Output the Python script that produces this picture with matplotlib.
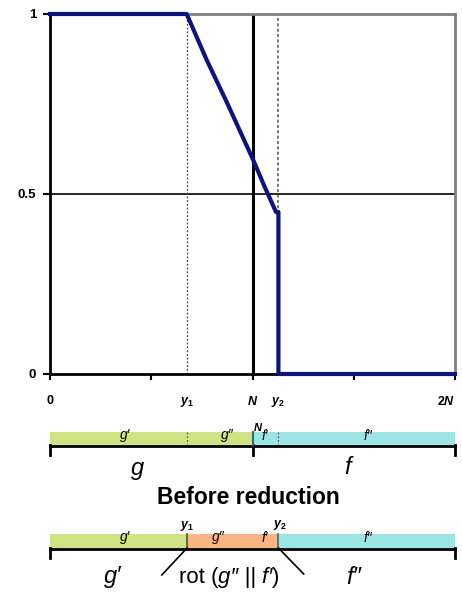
import matplotlib
matplotlib.use("Agg")
import matplotlib.pyplot as plt
from matplotlib.ticker import FixedLocator, NullFormatter, FixedFormatter

plt.rcParams['font.family'] = ['Liberation Sans', 'DejaVu Sans']
plt.rcParams['mathtext.fontset'] = 'custom'
plt.rcParams['mathtext.it'] = 'Liberation Sans:italic:bold'
plt.rcParams['mathtext.rm'] = 'Liberation Sans:bold'

# ---- data ----
N = 100.0
Y1 = 67.7
Y2 = 112.8
curve_x = [0, 67.5, 77.4, 87.3, 100.4, 106.0, 111.6, 112.8, 112.8, 200]
curve_y = [1.0, 1.0, 0.872, 0.755, 0.594, 0.52, 0.45, 0.45, 0.0, 0.0]
xtick_major = [0, 50, 100, 150, 200]
xlabel_pos = [0, Y1, N, Y2, 2 * N]
xlabel_text = ['0', '$y_1$', '$N$', '$y_2$', '$2N$']
ytick_vals = [0, 0.5, 1]
ytick_text = ['0', '0.5', '1']

before_bounds = [0, N, 2 * N]
before_colors = ['#cfe385', '#9de4e4']
before_labels = ["g\u2032", "g\u2033", "f\u2032", "f\u2033"]
before_label_x = [37, 87.5, 106, 157]

after_bounds = [0, Y1, Y2, 2 * N]
after_colors = ['#cfe385', '#fbb584', '#9de4e4']
after_labels = ["g\u2032", "g\u2033", "f\u2032", "f\u2033"]
after_label_x = [37, 83, 106, 157]

W, H = 462, 592
fig = plt.figure(figsize=(W / 100, H / 100), dpi=100)

# ---- main chart ----
L, R, T, B = 50, 455, 14, 374
ax = fig.add_axes([L / W, 1 - B / H, (R - L) / W, (B - T) / H])
ax.set_xlim(0, 200)
ax.set_ylim(0, 1)
ax.axhline(0.5, color='black', lw=1.2, zorder=1)
ax.axvline(N, color='black', lw=2.2, zorder=1)
ax.axvline(Y1, color='#444444', lw=0.9, ls=(0, (1.5, 1.5)), zorder=1)
ax.axvline(Y2, color='#555555', lw=1.1, ls=(0, (2, 1.5)), zorder=1)
ax.plot(curve_x, curve_y, color='#0d1480', lw=3.0, solid_joinstyle='round', zorder=3, clip_on=False)

for s in ['top', 'right']:
    ax.spines[s].set_color('#808080')
    ax.spines[s].set_linewidth(2)
for s in ['left', 'bottom']:
    ax.spines[s].set_color('black')
    ax.spines[s].set_linewidth(2)

ax.xaxis.remove_overlapping_locs = False
ax.xaxis.set_major_locator(FixedLocator(xtick_major))
ax.xaxis.set_major_formatter(NullFormatter())
ax.xaxis.set_minor_locator(FixedLocator(xlabel_pos))
ax.xaxis.set_minor_formatter(FixedFormatter(xlabel_text))
ax.tick_params(axis='x', which='major', direction='out', length=4, width=1.5, color='black')
ax.tick_params(axis='x', which='minor', length=0, pad=15, labelsize=9)
ax.set_yticks(ytick_vals)
ax.set_yticklabels(ytick_text, fontsize=9.5, fontweight='bold')
ax.tick_params(axis='y', direction='out', length=5, width=1.5, pad=5)
fig.canvas.draw()
mlabels = ax.xaxis.get_minorticklabels()
for t in mlabels:
    t.set_fontweight('bold')
mlabels[-1].set_horizontalalignment('right')
mlabels[-1].set_x(2 * N + 3.5)

# ---- bottom diagram (overlay axes in pixel y, data x) ----
ov = fig.add_axes([0, 0, 1, 1])
ov.set_xlim(-L / 2.025, (W - L) / 2.025)
ov.set_ylim(H, 0)
ov.axis('off')

# before reduction bar
y_top, y_bot = 432, 444.5
for i in range(len(before_bounds) - 1):
    ov.barh((y_top + y_bot) / 2, before_bounds[i + 1] - before_bounds[i], left=before_bounds[i],
            height=y_bot - y_top, color=before_colors[i], edgecolor='none')
ov.plot([0, 2 * N], [445.5, 445.5], color='black', lw=2)
for xb in [0, N, 2 * N]:
    ov.plot([xb, xb], [445, 455], color='black', lw=2)
ov.plot([N, N], [432, 445], color='#2a6f7a', lw=1.5)
for xb in [Y1, Y2]:
    ov.plot([xb, xb], [432, 444], color='#556655', lw=0.9, ls=(0, (1.5, 1.5)))
for lab, lx in zip(before_labels, before_label_x):
    ov.text(lx, 435.5, lab, ha='center', va='center', fontsize=10, style='italic')
ov.text(N + 2.5, 428, 'N', ha='center', va='center', fontsize=8, style='italic', fontweight='bold')
ov.text(43, 469, 'g', ha='center', va='center', fontsize=17, style='italic')
ov.text(147, 467, 'f', ha='center', va='center', fontsize=17, style='italic')
ov.text(N - 2, 497, 'Before reduction', ha='center', va='center', fontsize=16.5, fontweight='bold')

# after reduction bar
y_top2, y_bot2 = 533.5, 547.5
for i in range(len(after_bounds) - 1):
    ov.barh((y_top2 + y_bot2) / 2, after_bounds[i + 1] - after_bounds[i], left=after_bounds[i],
            height=y_bot2 - y_top2, color=after_colors[i], edgecolor='none')
ov.plot([0, 2 * N], [548.5, 548.5], color='black', lw=2)
for xb in [0, 2 * N]:
    ov.plot([xb, xb], [548, 558], color='black', lw=2)
ov.plot([Y1, Y1], [533.5, 548], color='#4a5a20', lw=1.2)
ov.plot([Y2, Y2], [533.5, 548], color='#2a6f7a', lw=1.2)
for lab, lx in zip(after_labels, after_label_x):
    ov.text(lx, 537.5, lab, ha='center', va='center', fontsize=10, style='italic')
ov.text(Y1, 526, '$y_1$', ha='center', va='center', fontsize=9)
ov.text(Y2 + 1, 525, '$y_2$', ha='center', va='center', fontsize=9)
ov.plot([Y1, Y1 - 12.5], [548, 575], color='black', lw=1.2)
ov.plot([Y2, Y2 + 12.5], [548, 574], color='black', lw=1.2)
ov.text(31, 577, "g\u2032", ha='center', va='center', fontsize=17, style='italic')
t1 = ov.text(63.5, 577, "rot (", ha='left', va='center', fontsize=16)
t2 = ov.annotate("g\u2033 || f\u2032", xycoords=t1, xy=(1, 0.5), va='center', ha='left',
                 fontsize=16, style='italic', annotation_clip=False)
ov.annotate(")", xycoords=t2, xy=(1, 0.5), va='center', ha='left',
            fontsize=16, annotation_clip=False)
ov.text(150, 577, "f\u2033", ha='center', va='center', fontsize=17, style='italic')

fig.savefig('out.png', dpi=100)
